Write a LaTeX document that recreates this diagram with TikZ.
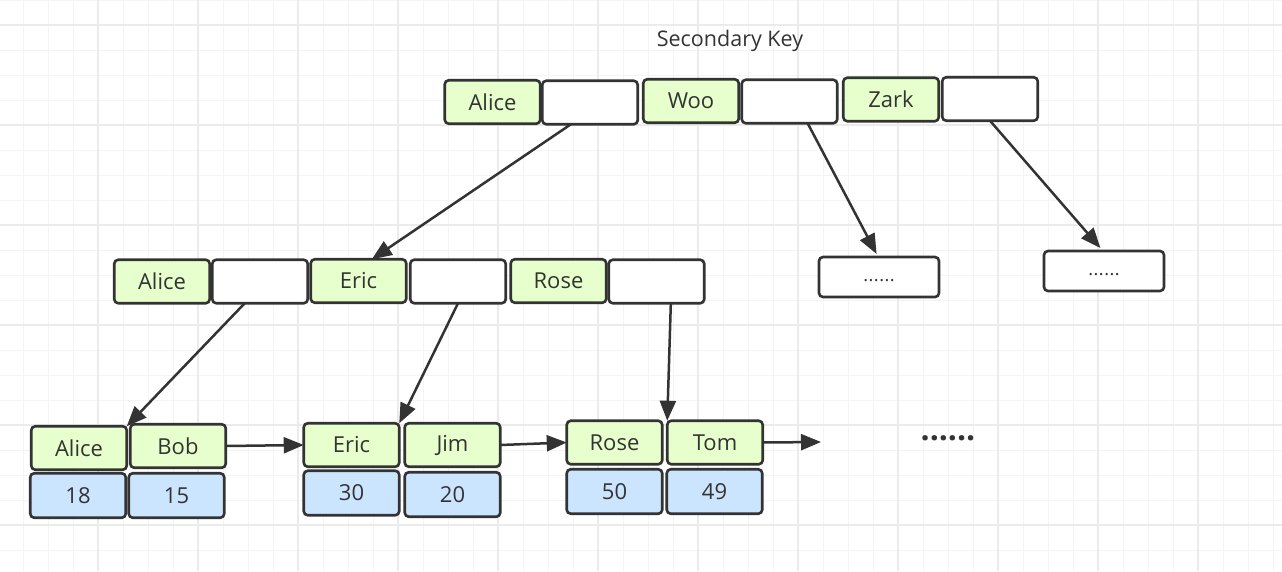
\documentclass[tikz,border=0pt]{standalone}
\usepackage{fontspec}
\setmainfont{Open Sans}
\usepackage{tikz}
\usetikzlibrary{arrows.meta}
\usetikzlibrary{calc}
\definecolor{line gray}{HTML}{333333}
\definecolor{key green}{HTML}{E6FFCC}
\definecolor{val blue}{HTML}{CCE5FF}
\definecolor{grid minor}{HTML}{F4F4F4}
\definecolor{grid major}{HTML}{EBEBEB}

\tikzset{%
  cell/.style = {draw = line gray, line width = 2.6pt, rounded corners = 4pt,
    minimum width = 95.5pt, minimum height = 43.5pt, inner sep = 0 pt,
    outer sep = 0 pt, text = line gray,
    font = \fontsize{22}{26}\selectfont},
  keycell/.style = {cell, fill = key green},
  ptrcell/.style = {cell, fill = white},
  valcell/.style = {cell, fill = val blue, minimum height = 44.5pt},
  morecell/.style = {cell, fill = white, minimum width = 120pt,
    minimum height = 40pt,
    font = \fontsize{18}{22}\selectfont\addfontfeature{LetterSpace=3}},
  link/.style = {draw = line gray, line width = 2.5pt,
    -{Triangle[length = 20pt, width = 16pt]}}
}

\begin{document}
\begin{tikzpicture}[x = 1pt, y = -1pt]
  \useasboundingbox (0, 0) rectangle (1282, 571);
  % background grid
  \foreach \x in {23, 48, ..., 1273}
    \draw[grid minor, line width = 1pt] (\x, 0) -- (\x, 571);
  \foreach \y in {0, 25, ..., 570}
    \draw[grid minor, line width = 1pt] (0, \y) -- (1282, \y);
  \foreach \x in {98, 198, ..., 1198}
    \draw[grid major, line width = 1.2pt] (\x, 0) -- (\x, 571);
  \foreach \y in {25, 125, ..., 525}
    \draw[grid major, line width = 1.2pt] (0, \y) -- (1282, \y);

  \node[text = line gray, font = \fontsize{21.5}{25}\selectfont] (title) %
    at (730, 41) {Secondary Key};

  % root
  \node[keycell] (tk1) at (492.5, 102) {Alice};
  \node[ptrcell] (tp1) at (590, 102.5) {};
  \node[keycell] (tk2) at (691, 101) {Woo};
  \node[ptrcell] (tp2) at (789.5, 101.5) {};
  \node[keycell] (tk3) at (891, 99.5) {Zark};
  \node[ptrcell] (tp3) at (990, 99) {};

  % inner level
  \node[keycell] (mk1) at (162, 281.5) {Alice};
  \node[ptrcell] (mp1) at (260, 281.5) {};
  \node[keycell] (mk2) at (358.5, 281) {Eric};
  \node[ptrcell] (mp2) at (458, 281.5) {};
  \node[keycell] (mk3) at (558.5, 281) {Rose};
  \node[ptrcell] (mp3) at (656.5, 281.5) {};

  \node[morecell] (more1) at (879, 277) {\strut......};
  \node[morecell] (more2) at (1104, 271) {\strut......};

  % leaves
  \node[keycell] (lk1) at (79, 448) {Alice};
  \node[keycell] (lk2) at (178, 446) {Bob};
  \node[valcell] (lv1) at (78, 495.5) {18};
  \node[valcell] (lv2) at (176.5, 495.5) {15};

  \node[keycell] (lk3) at (351.5, 445) {Eric};
  \node[keycell] (lk4) at (452.5, 445) {Jim};
  \node[valcell] (lv3) at (351.5, 493) {30};
  \node[valcell] (lv4) at (452.5, 494.5) {20};

  \node[keycell] (lk5) at (614.5, 442.5) {Rose};
  \node[keycell] (lk6) at (715, 442.5) {Tom};
  \node[valcell] (lv5) at (614.5, 491.5) {50};
  \node[valcell] (lv6) at (714.5, 491.5) {49};

  \coordinate (tail) at (821, 442);
  \node[text = line gray, inner sep = 0 pt, %
    font = \fontsize{32}{36}\bfseries] (dots) at (948, 438) {......};

  % pointers
  \draw[link] ($(tp1.south west)!0.3!(tp1.south east)$) %
    -- ($(mk2.north west)!0.64!(mk2.north east)$);
  \draw[link] ($(tp2.south west)!0.69!(tp2.south east)$) %
    -- ($(more1.north west)!0.48!(more1.north east) + (0, -3)$);
  \draw[link] (tp3.south) %
    -- ($(more2.north west)!0.47!(more2.north east) + (0, -3)$);
  \draw[link] ($(mp1.south west)!0.34!(mp1.south east)$) -- (lk1.north east);
  \draw[link] (mp2.south) -- (lk3.north east);
  \draw[link] ($(mp3.south west)!0.65!(mp3.south east)$) -- (lk6.north west);

  % leaf chain
  \draw[link] (lk2.east) -- (lk3.west);
  \draw[link] (lk4.east) -- (lk5.west);
  \draw[link] (lk6.east) -- (tail);
\end{tikzpicture}
\end{document}
